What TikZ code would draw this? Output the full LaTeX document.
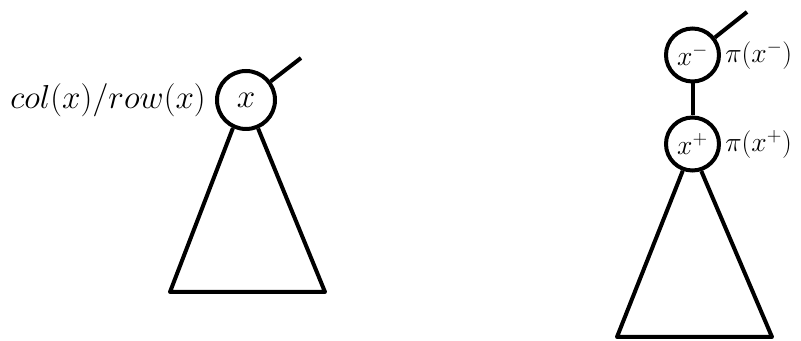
\documentclass[tikz,border=0pt]{standalone}
\begin{document}
\begin{tikzpicture}[x=0.75pt,y=-0.75pt,
  vert/.style={circle,draw,line width=3pt,inner sep=0pt},
  lbl/.style={inner sep=0pt},
  edge/.style={line width=3pt,line join=round}]
\useasboundingbox (0,0) rectangle (801,341);
% left tree
\node[vert,font=\Huge,minimum size=58*0.75pt] (x) at (246,100) {$x$};
\node[lbl,font=\Huge,anchor=east] (lx) at (206,100) {$col(x)/row(x)$};
\coordinate (tx) at (301,58);
\coordinate (bl) at (170,292);
\coordinate (br) at (325,292);
\draw[edge] (x.37) -- (tx);
\draw[edge] (x.245) -- (bl) -- (br) -- (x.293);
% right tree
\node[vert,font=\huge,minimum size=53*0.75pt] (xm) at (692.5,55) {$x^-$};
\node[vert,font=\huge,minimum size=53*0.75pt] (xp) at (692.5,144) {$x^+$};
\node[lbl,font=\huge,anchor=west] (lm) at (725,55) {$\pi(x^-)$};
\node[lbl,font=\huge,anchor=west] (lp) at (725,144) {$\pi(x^+)$};
\coordinate (tm) at (747,12);
\coordinate (bl2) at (617,337);
\coordinate (br2) at (772,337);
\draw[edge] (xm.38) -- (tm);
\draw[edge] (xm.south) -- (xp.north);
\draw[edge] (xp.250) -- (bl2) -- (br2) -- (xp.288);
\end{tikzpicture}
\end{document}
